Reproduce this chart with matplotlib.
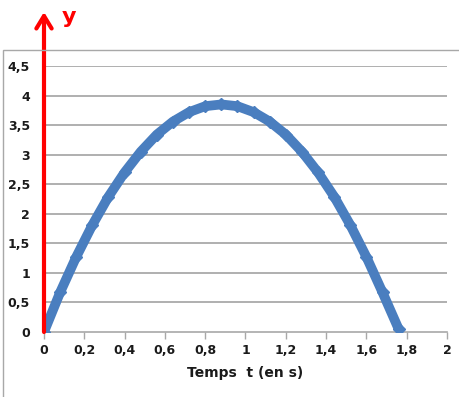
import matplotlib.pyplot as plt
import numpy as np
from matplotlib.patches import Rectangle

# values
t = [0, 0.08, 0.16, 0.24, 0.32, 0.40, 0.48, 0.56, 0.64, 0.72, 0.80, 0.88,
     0.96, 1.04, 1.12, 1.20, 1.28, 1.36, 1.44, 1.52, 1.60, 1.68, 1.76]
y = [0, 0.67, 1.27, 1.81, 2.29, 2.70, 3.05, 3.34, 3.56, 3.72, 3.82, 3.85,
     3.82, 3.72, 3.56, 3.34, 3.05, 2.70, 2.29, 1.81, 1.27, 0.67, 0.05]
xticks = [0, 0.2, 0.4, 0.6, 0.8, 1, 1.2, 1.4, 1.6, 1.8, 2]
yticks = [0, 0.5, 1, 1.5, 2, 2.5, 3, 3.5, 4, 4.5]

def lab(v):
    s = ('%g' % v).replace('.', ',')
    return s

fig = plt.figure(figsize=(4.6, 3.97), dpi=100)
fig.patches.append(Rectangle((3/460, -0.01), 1.0, 1-50/397+0.01,
                             transform=fig.transFigure, fill=False,
                             edgecolor='#a8a8a8', lw=1))

ax = fig.add_axes([44/460, 1-332/397, 403/460, 266/397])
ax.set_xlim(0, 2)
ax.set_ylim(0, 4.5)

for v in yticks[1:]:
    ax.axhline(v, color='#9a9a9a', lw=1.1, zorder=1)

ax.plot(t, y, color='#4a7ebf', lw=7, solid_capstyle='butt', zorder=3)
ax.plot(t, y, 'D', color='#4a7ebf', ms=6, zorder=3)

for s in ['top', 'right', 'left']:
    ax.spines[s].set_visible(False)
ax.spines['bottom'].set_color('#a8a8a8')
ax.spines['bottom'].set_linewidth(1.2)

ax.set_xticks(xticks)
ax.set_xticklabels([lab(v) for v in xticks], fontweight='bold', fontsize=9)
ax.set_yticks(yticks)
ax.set_yticklabels([lab(v) for v in yticks], fontweight='bold', fontsize=9)
ax.tick_params(axis='x', colors='#a8a8a8', length=5, width=1, labelcolor='#1a1a1a', pad=4)
ax.tick_params(axis='y', length=0, labelcolor='#1a1a1a', pad=10)
ax.set_xlabel('Temps  t (en s)', fontweight='bold', fontsize=10, color='#1a1a1a', labelpad=6)

# red arrow for the y axis
ax.annotate('', xy=(0, 1-12/397), xycoords=('data', 'figure fraction'),
            xytext=(0, 0), textcoords='data',
            arrowprops=dict(arrowstyle='->,head_length=0.9,head_width=0.55',
                            color='red', lw=3, shrinkA=0, shrinkB=0),
            annotation_clip=False)
fig.text(62/460, 1-17/397, 'y', color='red', fontsize=16, fontweight='bold', va='center')

plt.savefig('out.png', dpi=100)
